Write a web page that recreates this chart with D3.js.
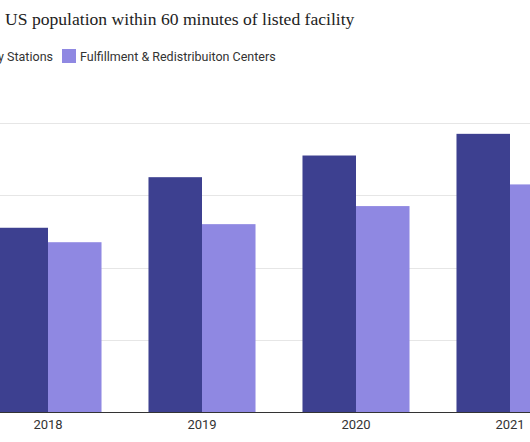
<!DOCTYPE html>
<html>
<head>
<meta charset="utf-8">
<script src="https://cdn.jsdelivr.net/npm/d3@7/dist/d3.min.js"></script>
<style>
  html, body { margin: 0; padding: 0; background: #fff; overflow: hidden; }
  svg { display: block; }
</style>
</head>
<body>
<svg id="chart" width="530" height="442"></svg>
<script>
const titlePrefix = "%";
const titleText = "US population within 60 minutes of listed facility";
const years = ["2018", "2019", "2020", "2021"];
const seriesNames = ["Delivery Stations", "Fulfillment & Redistribuiton Centers"];
const deliveryStations = [51, 65, 71, 77];
const fulfillmentCenters = [47, 52, 57, 63];
const yTicks = [0, 20, 40, 60, 80];
const colors = ["#3d4090", "#8f88e2"];

const svg = d3.select("#chart");
const W = 530;

const data = years.map((y, i) => ({ year: y, values: [deliveryStations[i], fulfillmentCenters[i]] }));

const x = d3.scaleBand().domain(years).range([-29, 587]).paddingInner(0.305).paddingOuter(0.1525);
const xs = d3.scaleBand().domain([0, 1]).range([0, x.bandwidth()]).padding(0);
const y = d3.scaleLinear().domain([0, 80]).range([412, 123]);

// gridlines
svg.append("g").selectAll("line").data(yTicks.filter(d => d > 0)).join("line")
  .attr("x1", 0).attr("x2", W)
  .attr("y1", d => Math.round(y(d)) + 0.5).attr("y2", d => Math.round(y(d)) + 0.5)
  .attr("stroke", "#e6e6e6").attr("stroke-width", 1);

// bars
const groups = svg.append("g").selectAll("g").data(data).join("g")
  .attr("transform", d => `translate(${x(d.year)},0)`);
groups.selectAll("rect").data(d => d.values.map((v, k) => ({ v, k }))).join("rect")
  .attr("x", d => xs(d.k))
  .attr("width", xs.bandwidth())
  .attr("y", d => y(d.v))
  .attr("height", d => y(0) - y(d.v))
  .attr("fill", d => colors[d.k]);

// x axis
const xAxis = svg.append("g").attr("transform", `translate(0,${y(0)})`)
  .call(d3.axisBottom(x).tickSize(0).tickPadding(8));
xAxis.select(".domain").remove();
xAxis.selectAll("text")
  .attr("font-family", "Roboto, sans-serif").attr("font-size", 13).attr("fill", "#333");
svg.append("line").attr("x1", 0).attr("x2", W)
  .attr("y1", y(0) + 0.5).attr("y2", y(0) + 0.5)
  .attr("stroke", "#333").attr("stroke-width", 1);

// title (the "%" prefix lies beyond the left edge, as in the cropped reference)
const titleSize = 17.6;
const title = svg.append("text")
  .attr("y", 25)
  .attr("font-family", "'Liberation Serif', serif")
  .attr("font-size", titleSize)
  .attr("fill", "#222");
title.append("tspan").attr("x", -24).text(titlePrefix);
title.append("tspan").attr("x", 5).text(titleText);

// legend
const legendFont = 12.5;
const lg = svg.append("g").attr("font-family", "Roboto, sans-serif").attr("font-size", legendFont).attr("fill", "#333");
lg.append("text").attr("x", 80).attr("y", 60.5).text(seriesNames[1]);
lg.append("rect").attr("x", 62).attr("y", 49).attr("width", 14).attr("height", 14).attr("fill", colors[1]);
const t1 = lg.append("text").attr("y", 60.5).attr("text-anchor", "end").attr("x", 53).text(seriesNames[0]);
const t1w = t1.node().getComputedTextLength();
lg.append("rect").attr("x", 53 - t1w - 18).attr("y", 49).attr("width", 14).attr("height", 14).attr("fill", colors[0]);
</script>
</body>
</html>
